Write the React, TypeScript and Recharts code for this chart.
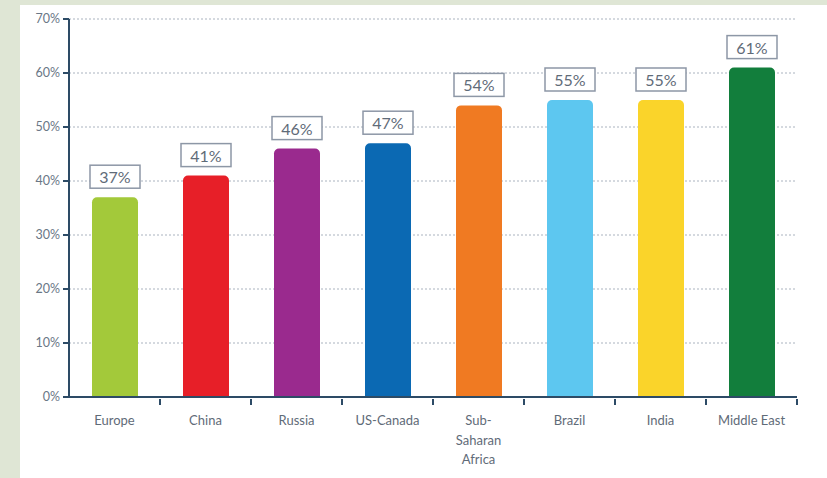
import React from 'react';
import { BarChart, Bar, XAxis, YAxis, CartesianGrid, LabelList, Cell } from 'recharts';

const regions = ['Europe', 'China', 'Russia', 'US-Canada', 'Sub-Saharan Africa', 'Brazil', 'India', 'Middle East'];
const shares = [37, 41, 46, 47, 54, 55, 55, 61];
const barColors = ['#a3c93a', '#e71f28', '#9a2a8e', '#0b69b3', '#f07a22', '#5dc7f0', '#fad42a', '#127e3c'];
const yTicks = [0, 10, 20, 30, 40, 50, 60, 70];

const tickLabelLines: Record<string, string[]> = {
  'Sub-Saharan Africa': ['Sub-', 'Saharan', 'Africa'],
};

const data = regions.map((r, i) => ({ region: r, share: shares[i], color: barColors[i] }));

const AXIS = '#2d4b66';
const FONT = 'Lato, "Open Sans", sans-serif';

function RegionTick(props: any) {
  const { x, y, payload } = props;
  const half = payload.offset ?? 45.5;
  const lines = tickLabelLines[payload.value] ?? [payload.value];
  return (
    <g>
      <line x1={x + half} x2={x + half} y1={y - 6} y2={y} stroke={AXIS} strokeWidth={2} />
      <text x={x} y={y + 20} textAnchor="middle" fontSize={13} fill="#5f6b78" fontFamily={FONT}>
        {lines.map((l: string, i: number) => (
          <tspan key={i} x={x} dy={i === 0 ? 0 : 19.5}>
            {l}
          </tspan>
        ))}
      </text>
    </g>
  );
}

function ValueBox(props: any) {
  const { x, y, width, value } = props;
  const cx = x + width / 2;
  const w = 50;
  const h = 23;
  const bottom = y - 9;
  return (
    <g>
      <rect x={cx - w / 2} y={bottom - h} width={w} height={h} fill="#fff" stroke="#8d97a6" strokeWidth={1.5} />
      <text x={cx} y={bottom - 5} textAnchor="middle" fontSize={16} fill="#5f6b78" fontFamily={FONT}>
        {value}%
      </text>
    </g>
  );
}

export default function App() {
  return (
    <div style={{ position: 'absolute', left: 0, top: 0, width: 827, height: 478, background: '#dfe6d5' }}>
      <div style={{ position: 'absolute', left: 20, top: 5, width: 807, height: 473, background: '#fff' }}>
        <BarChart
          width={807}
          height={473}
          data={data}
          margin={{ top: 14, right: 30, left: 9, bottom: 0 }}
          barCategoryGap={0}
        >
          <CartesianGrid vertical={false} horizontalValues={[10, 20, 30, 40, 50, 60, 70]} stroke="#aab3bf" strokeDasharray="2 2" />
          <XAxis
            dataKey="region"
            interval={0}
            height={81}
            axisLine={{ stroke: AXIS, strokeWidth: 2 }}
            tickLine={false}
            tick={<RegionTick />}
          />
          <YAxis
            domain={[0, 70]}
            ticks={yTicks}
            width={40}
            axisLine={{ stroke: AXIS, strokeWidth: 2 }}
            tickLine={{ stroke: AXIS, strokeWidth: 2 }}
            tickSize={6}
            tickMargin={3}
            tickFormatter={(v) => `${v}%`}
            tick={{ fontSize: 12.5, fill: '#6a7786', fontFamily: FONT }}
          />
          <Bar dataKey="share" barSize={46} radius={[5, 5, 0, 0]} isAnimationActive={false}>
            {data.map((d) => (
              <Cell key={d.region} fill={d.color} />
            ))}
            <LabelList dataKey="share" content={<ValueBox />} />
          </Bar>
        </BarChart>
      </div>
    </div>
  );
}
